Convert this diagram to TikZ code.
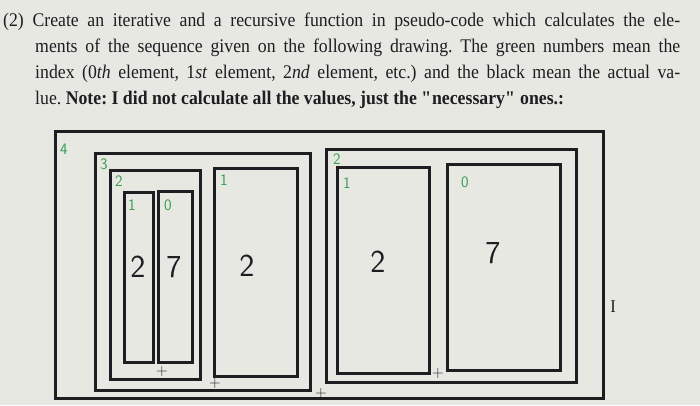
\documentclass[tikz,border=0pt]{standalone}
\usepackage{fontspec}
\setmainfont[FakeStretch=0.92]{Liberation Serif}
\usepackage{tikz}
\usetikzlibrary{positioning}
\definecolor{paper}{RGB}{232,232,227}
\definecolor{ink}{RGB}{30,30,34}
\definecolor{pen}{RGB}{56,158,82}
\tikzset{
  box/.style={draw=ink, line width=3pt},
  idx/.style={text=pen, font=\sffamily\fontsize{16}{16}\selectfont, inner sep=0pt},
  val/.style={text=ink, font=\sffamily\fontsize{32}{32}\selectfont, inner sep=0pt},
  tick/.style={text=ink, font=\sffamily\fontsize{16}{16}\selectfont, inner sep=0pt},
  txt/.style={text=ink, anchor=base west, inner sep=0pt, font=\fontsize{19.3}{22}\selectfont}
}
\frenchspacing
\begin{document}
\begin{tikzpicture}[x=1pt, y=-1pt]
\fill[paper] (0,0) rectangle (700,405);
\useasboundingbox (0,0) rectangle (700,405);
% the task text
\node[txt] (l1) at (3,26) {\makebox[677pt][s]{(2) Create an iterative and a recursive function in pseudo-code which calculates the ele-}};
\node[txt] (l2) at (35,52) {\makebox[645pt][s]{ments of the sequence given on the following drawing. The green numbers mean the}};
\node[txt] (l3) at (35,78) {\makebox[645pt][s]{index (0\textit{th} element, 1\textit{st} element, 2\textit{nd} element, etc.) and the black mean the actual va-}};
\node[txt] (l4) at (35,104) {lue. \textbf{Note: I did not calculate all the values, just the \textquotedbl necessary\textquotedbl\ ones.:}};
% boxes
\draw[box] (55,131) rectangle (603,398);
\draw[box] (95,153) rectangle (310,390);
\draw[box] (110,170) rectangle (200,379);
\draw[box] (124,192) rectangle (153,362);
\draw[box] (158,191) rectangle (192,362);
\draw[box] (214,168) rectangle (297,376);
\draw[box] (326,149) rectangle (576,382);
\draw[box] (337,167) rectangle (429,373);
\draw[box] (447,164) rectangle (560,370);
% green indices
\path
(64,149) node[idx] (i4) {4};
\path
(104,164) node[idx] (i3) {3};
\path
(119,181) node[idx] (i2a) {2};
\path
(132,205) node[idx] (i1a) {1};
\path
(168,205) node[idx] (i0a) {0};
\path
(224,180) node[idx] (i1b) {1};
\path
(337,159) node[idx] (i2b) {2};
\path
(347,183) node[idx] (i1c) {1};
\path
(465,182) node[idx] (i0b) {0};
% black values
\path
(138,267) node[val] (v1a) {2};
\path
(174,267) node[val] (v0a) {7};
\path
(247,266) node[val] (v1b) {2};
\path
(378,262) node[val] (v1c) {2};
\path
(493,253) node[val] (v0b) {7};
% plus signs
\path
(162,371) node[tick] (p1) {+};
\path
(215,383) node[tick] (p2) {+};
\path
(321,393) node[tick] (p3) {+};
\path
(438,373) node[tick] (p4) {+};
\path
(613,307) node[tick, font=\rmfamily\fontsize{18}{18}\selectfont] (cur) {I};
\end{tikzpicture}
\end{document}
